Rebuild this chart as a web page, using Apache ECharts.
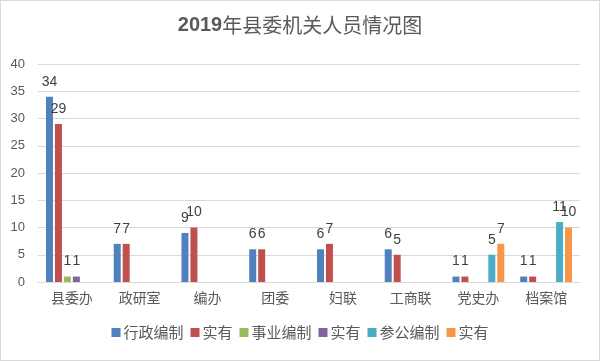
<!DOCTYPE html>
<html><head><meta charset="utf-8">
<script src="https://cdn.jsdelivr.net/npm/echarts@6/dist/echarts.min.js"></script>
<style>html,body{margin:0;padding:0;background:#fff}#c{width:598px;height:359px;border:1px solid #d9d9d9}</style>
</head><body><div id="c"></div>
<script>
const categories = ['县委办','政研室','编办','团委','妇联','工商联','党史办','档案馆'];
const seriesNames = ['行政编制','实有','事业编制','实有','参公编制','实有'];
const xzbz = [34,7,9,6,6,6,1,1];
const xzsy = [29,7,10,6,7,5,1,1];
const sybz = [1,null,null,null,null,null,null,null];
const sysy = [1,null,null,null,null,null,null,null];
const cgbz = [null,null,null,null,null,null,5,11];
const cgsy = [null,null,null,null,null,null,7,10];
const yTicks = [0,5,10,15,20,25,30,35,40];
const colors = ['#4F81BD','#C0504D','#9BBB59','#8064A2','#4BACC6','#F79646'];
const font = '"Noto Sans CJK SC","Liberation Sans",sans-serif';
const allData = [xzbz,xzsy,sybz,sysy,cgbz,cgsy];
const chart = echarts.init(document.getElementById('c'));
chart.setOption({
  animation:false,
  color:colors,
  title:{text:'{b|2019}{n|年县委机关人员情况图}',left:'center',top:9,
    textStyle:{rich:{
      b:{fontFamily:'"Liberation Sans",sans-serif',fontSize:20,fontWeight:'bold',color:'#595959'},
      n:{fontFamily:font,fontSize:20,fontWeight:'normal',color:'#595959'}}}},
  legend:{bottom:15,left:'center',itemWidth:9,itemHeight:9,itemGap:7,icon:'rect',
    textStyle:{fontFamily:font,fontSize:15,color:'#595959',padding:[0,0,0,-2]},
    data:seriesNames.map((n,i)=>({name:n+'\u200b'.repeat(i)}))},
  grid:{left:37,right:19,top:63,bottom:78},
  xAxis:{type:'category',data:categories,
    axisLine:{lineStyle:{color:'#d9d9d9'}},axisTick:{show:false},
    axisLabel:{fontFamily:font,fontSize:14,color:'#595959',margin:9}},
  yAxis:{type:'value',min:0,max:40,interval:5,
    axisLine:{show:false},axisTick:{show:false},
    splitLine:{lineStyle:{color:'#d9d9d9'}},
    axisLabel:{fontFamily:'"Liberation Sans",sans-serif',fontSize:13,color:'#595959',margin:13}},
  series:allData.map((d,i)=>({
    name:seriesNames[i]+'\u200b'.repeat(i),type:'bar',data:d,barWidth:7,barGap:'28%',
    label:{show:true,position:'top',distance:8,fontFamily:'"Liberation Sans",sans-serif',fontSize:14,color:'#404040'}
  }))
});
</script></body></html>
